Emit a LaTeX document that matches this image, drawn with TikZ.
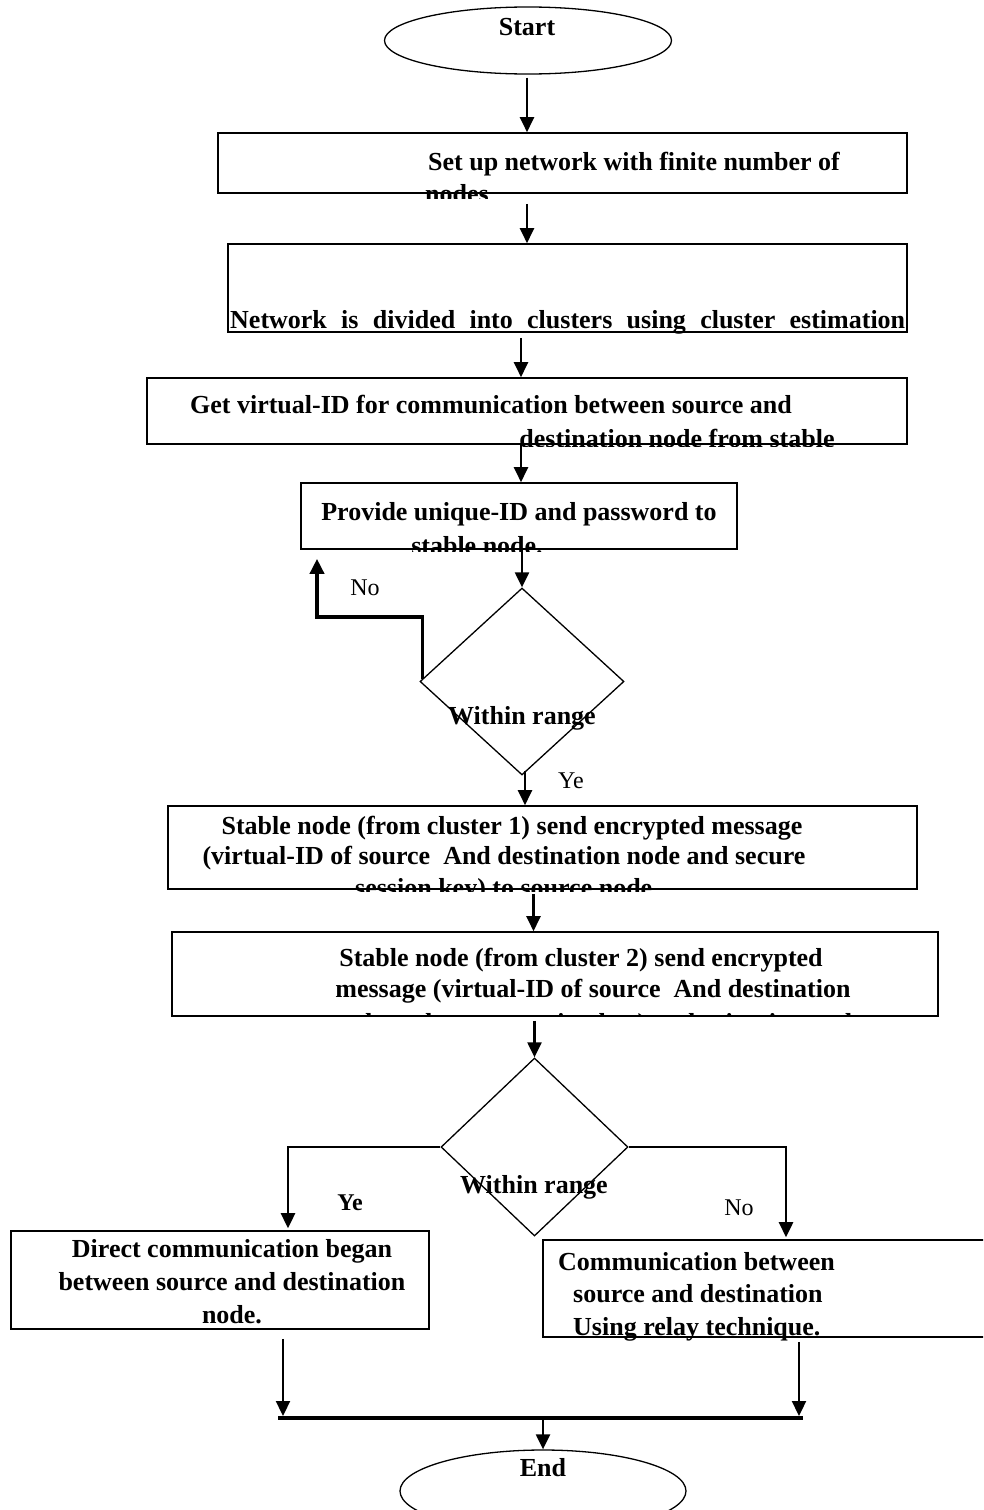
\documentclass[tikz,border=0pt]{standalone}
\usepackage{fontspec}
\setmainfont{Liberation Serif}
\usetikzlibrary{shapes.geometric,arrows.meta,calc}
\begin{document}
\begin{tikzpicture}[x=1pt,y=-1pt,
  box/.style={draw, rectangle, line width=1.6pt, inner sep=0pt},
  dia/.style={draw, diamond, line width=1.3pt, inner sep=0pt},
  term/.style={draw, ellipse, line width=1.3pt, inner sep=0pt},
  arr/.style={line width=2.2pt, -{Triangle[length=15pt,width=14pt]}},
  thickarr/.style={line width=3.6pt, -{Triangle[length=15pt,width=14pt]}},
  brarr/.style={line width=2.6pt, -{Triangle[length=15pt,width=14pt]}},
  txt/.style={font=\fontsize{26}{30}\selectfont\bfseries, inner sep=0pt},
  lbl/.style={font=\fontsize{24}{28}\selectfont, inner sep=0pt, anchor=base},
  blbl/.style={font=\fontsize{24}{28}\selectfont\bfseries, inner sep=0pt, anchor=base}]
\useasboundingbox (0,0) rectangle (983,1510);
\clip (0,0) rectangle (983,1510);

% terminals
\node[term, minimum width=287pt, minimum height=67pt] (st) at (528,40.5) {};
\node[txt, anchor=base] (stT) at (527,35) {Start};
\node[term, minimum width=286pt, minimum height=82pt] (en) at (543,1491) {};
\node[txt, anchor=base] (enT) at (543,1476) {End};

% boxes
\node[box, minimum width=689pt, minimum height=60pt] (b1) at (562.5,163) {};
\node[box, minimum width=679pt, minimum height=88pt] (b2) at (567.5,288) {};
\node[box, minimum width=760pt, minimum height=66pt] (b3) at (527,411) {};
\node[box, minimum width=436pt, minimum height=66pt] (b4) at (519,516) {};
\node[dia, minimum width=204pt, minimum height=187pt] (d1) at (522,681.5) {};
\node[box, minimum width=749pt, minimum height=83pt] (b5) at (542.5,847.5) {};
\node[box, minimum width=766pt, minimum height=84pt] (b6) at (555,974) {};
\node[dia, minimum width=187pt, minimum height=178pt] (d2) at (534.5,1147) {};
\node[box, minimum width=418pt, minimum height=98pt] (b7) at (220,1280) {};
\node[box, minimum width=447pt, minimum height=97pt] (b8) at (766.5,1288.5) {};

% box texts
\node[txt, anchor=base] (t1) at (634,170) {Set up network with finite number of};
\begin{scope}
  \clip (200,120) rectangle (920,198);
  \node[txt, anchor=base west] (t1b) at (425,202) {nodes};
\end{scope}
\node[txt, anchor=base west] (t2) at (230,328) {\makebox[675pt][s]{Network is divided into clusters using cluster estimation}};
\node[txt, anchor=base] (t3) at (491,413) {Get virtual-ID for communication between source and};
\begin{scope}
  \clip (140,370) rectangle (920,446);
  \node[txt, anchor=base] (t3b) at (677,447) {destination node from stable};
\end{scope}
\node[txt, anchor=base] (t4) at (519,520) {Provide unique-ID and password to};
\begin{scope}
  \clip (290,480) rectangle (750,551);
  \node[txt, anchor=base] (t4b) at (477,554) {stable node.};
\end{scope}
\node[txt, anchor=base] (t5) at (522,724) {Within range};
\node[txt, anchor=base] (t6a) at (512,834) {Stable node (from cluster 1) send encrypted message};
\node[txt, anchor=base] (t6b) at (504,864) {(virtual-ID of source \ And destination node and secure};
\begin{scope}
  \clip (160,800) rectangle (930,891);
  \node[txt, anchor=base] (t6c) at (507,896) {session key) to source node.};
\end{scope}
\node[txt, anchor=base] (t7a) at (581,966) {Stable node (from cluster 2) send encrypted};
\node[txt, anchor=base] (t7b) at (593,997) {message (virtual-ID of source \ And destination};
\begin{scope}
  \clip (160,920) rectangle (950,1016);
  \node[txt, anchor=base] (t7c) at (597,1031) {node and secure session key) to destination node};
\end{scope}
\node[txt, anchor=base] (t8) at (534,1193) {Within range};
\node[txt, anchor=base] (t9a) at (232,1257) {Direct communication began};
\node[txt, anchor=base] (t9b) at (232,1290) {between source and destination};
\node[txt, anchor=base] (t9c) at (232,1323) {node.};
\node[txt, anchor=base west] (t10a) at (558,1270) {Communication between};
\node[txt, anchor=base west] (t10b) at (573,1302) {source and destination};
\node[txt, anchor=base west] (t10c) at (573,1335) {Using relay technique.};

% labels
\node[lbl] (no1) at (365,595) {No};
\node[lbl] (ye1) at (571,788) {Ye};
\node[blbl] (ye2) at (350,1210) {Ye};
\node[lbl] (no2) at (739,1215) {No};

% main arrows
\draw[arr] ($(st.south)+(-1,3)$) -- ($(st.south |- b1.north)+(-1,0)$);
\draw[arr] ($(b1.south -| st.south)+(-1,10)$) -- ($(b2.north -| st.south)+(-1,0)$);
\draw[arr] ($(b2.south -| b4.north)+(2,5)$) -- ($(b3.north -| b4.north)+(2,0)$);
\draw[arr] ($(b3.south -| b4.north)+(2,0)$) -- ($(b4.north)+(2,0)$);
\draw[arr] (d1.north |- b4.south) -- (d1.north);
\draw[arr] ($(d1.south)+(3,-5)$) -- ($(b5.north -| d1.south)+(3,0)$);
\draw[arr] ($(b5.south -| d2.north)+(-1,4)$) -- ($(b6.north -| d2.north)+(-1,0)$);
\draw[arr] ($(b6.south -| d2.north)+(0,4)$) -- (d2.north);

% No loop from first decision
\coordinate (nobend) at (317,617);
\draw[thickarr] ($(d1.west)+(3,-3)$) |- (nobend) -- ($(nobend |- b4.south)+(0,9)$);

% branches of second decision
\coordinate (lb) at (288,1147);
\coordinate (rb) at (786,1147);
\draw[brarr] (d2.west) -- (lb) -- ($(lb |- b7.north)+(0,-2)$);
\draw[brarr] (d2.east) -- (rb) -- ($(rb |- b8.north)+(0,-2)$);

% merge
\coordinate (jl) at (278,1418);
\coordinate (jr) at (803,1418);
\coordinate (jm) at (543,1418);
\draw[arr] ($(b7.south -| 283,0)+(0,9)$) -- ($(jl)+(5,-2)$);
\draw[arr] ($(b8.south -| 799,0)+(0,4)$) -- ($(jr)+(-4,-2)$);
\draw[line width=4pt] (jl) -- (jr);
\draw[arr] (jm) -- (en.north);
\end{tikzpicture}
\end{document}
